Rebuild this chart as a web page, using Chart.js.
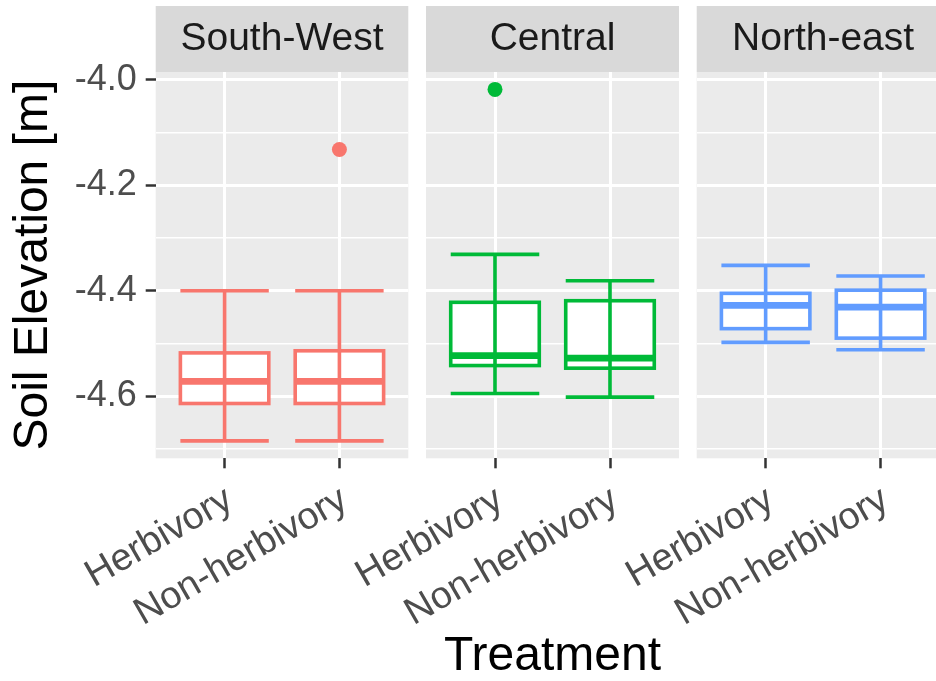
<!DOCTYPE html>
<html lang="en">
<head>
<meta charset="UTF-8">
<title>Soil Elevation by Treatment</title>
<script src="https://cdn.jsdelivr.net/npm/chart.js"></script>
<style>
    body { margin: 0; background: #ffffff; overflow: hidden; }
    #wrap { position: relative; width: 936px; height: 681px; overflow: hidden; }
    #wrap canvas { position: absolute; top: 0; }
</style>
</head>
<body>
<div id="wrap">
    <canvas id="panel0" width="420" height="681" style="left:0px"></canvas>
    <canvas id="panel1" width="400" height="681" style="left:300px"></canvas>
    <canvas id="panel2" width="390" height="681" style="left:570px"></canvas>
</div>
<script>
// facets and categories
const regions = ['South-West', 'Central', 'North-east'];
const treatments = ['Herbivory', 'Non-herbivory'];
const regionColors = ['#F8766D', '#00BA38', '#619CFF'];

// box statistics, one row per region: [Herbivory, Non-herbivory]
const whiskerLow  = [[-4.685, -4.685], [-4.595, -4.602], [-4.498, -4.512]];
const lowerQuart  = [[-4.614, -4.614], [-4.542, -4.547], [-4.472, -4.490]];
const medians     = [[-4.572, -4.572], [-4.523, -4.528], [-4.428, -4.431]];
const upperQuart  = [[-4.518, -4.514], [-4.422, -4.419], [-4.405, -4.399]];
const whiskerHigh = [[-4.400, -4.400], [-4.331, -4.381], [-4.352, -4.372]];
const outliers    = [[null, -4.132], [-4.018, null], [null, null]];

// y axis
const yMajorTicks = [-4.6, -4.4, -4.2, -4.0];
const yMinorTicks = [-4.7, -4.5, -4.3, -4.1];
const yMin = -4.718;
const yMax = -3.985;

Chart.defaults.font.family = "'Liberation Sans', Arial, sans-serif";

// grey panel + strip behind the title
const panelPlugin = {
    id: 'panelPlugin',
    beforeDraw(chart) {
        const ctx = chart.ctx;
        const a = chart.chartArea;
        const t = chart.titleBlock;
        ctx.save();
        ctx.fillStyle = '#EBEBEB';
        ctx.fillRect(a.left, a.top, a.right - a.left, a.bottom - a.top);
        ctx.fillStyle = '#D9D9D9';
        ctx.fillRect(a.left, t.top, a.right - a.left, a.top - t.top);
        ctx.restore();
    }
};

// boxplot: white box, thick median, then errorbar on top
const boxPlugin = {
    id: 'boxPlugin',
    beforeDatasetsDraw(chart, args, opts) {
        const ctx = chart.ctx;
        const x = chart.scales.x, y = chart.scales.y;
        const r = opts.region;
        const halfW = 0.385;
        ctx.save();
        ctx.strokeStyle = regionColors[r];
        treatments.forEach((t, i) => {
            const cx = x.getPixelForValue(i + 1);
            const xl = x.getPixelForValue(i + 1 - halfW);
            const xr = x.getPixelForValue(i + 1 + halfW);
            const top = y.getPixelForValue(upperQuart[r][i]);
            const bot = y.getPixelForValue(lowerQuart[r][i]);
            const med = y.getPixelForValue(medians[r][i]);
            const hi = y.getPixelForValue(whiskerHigh[r][i]);
            const lo = y.getPixelForValue(whiskerLow[r][i]);

            ctx.fillStyle = '#FFFFFF';
            ctx.fillRect(xl, top, xr - xl, bot - top);
            ctx.lineWidth = 3.6;
            ctx.strokeRect(xl, top, xr - xl, bot - top);

            ctx.lineWidth = 6.8;
            ctx.beginPath();
            ctx.moveTo(xl, med);
            ctx.lineTo(xr, med);
            ctx.stroke();

            ctx.lineWidth = 3.6;
            ctx.beginPath();
            ctx.moveTo(cx, hi);
            ctx.lineTo(cx, lo);
            ctx.moveTo(xl, hi);
            ctx.lineTo(xr, hi);
            ctx.moveTo(xl, lo);
            ctx.lineTo(xr, lo);
            ctx.stroke();
        });
        ctx.restore();
    }
};

const pads = [
    { left: 0, right: 11.7 },
    { left: 126, right: 21 },
    { left: 126.7, right: 10.5 }
];

function makePanel(r) {
    const first = r === 0;
    const middle = r === 1;
    const points = [];
    treatments.forEach((t, i) => {
        if (outliers[r][i] !== null) points.push({ x: i + 1, y: outliers[r][i] });
    });

    const yTicks = yMajorTicks.map(v => ({ value: v, isMinor: false }))
        .concat(yMinorTicks.map(v => ({ value: v, isMinor: true })))
        .sort((a, b) => a.value - b.value);

    new Chart(document.getElementById('panel' + r), {
        type: 'scatter',
        data: {
            datasets: [{
                data: points,
                pointRadius: 7.5,
                pointHoverRadius: 7.5,
                backgroundColor: regionColors[r],
                borderWidth: 0
            }]
        },
        options: {
            responsive: false,
            animation: false,
            layout: { padding: { top: 6, bottom: 0, left: pads[r].left, right: pads[r].right } },
            plugins: {
                legend: { display: false },
                tooltip: { enabled: false },
                title: {
                    display: true,
                    text: regions[r],
                    fullSize: false,
                    color: '#1A1A1A',
                    font: { size: 39, weight: 'normal', lineHeight: 1.2 },
                    padding: { top: 9.6, bottom: 9.6 }
                },
                boxPlugin: { region: r }
            },
            scales: {
                x: {
                    type: 'linear',
                    min: 0.4,
                    max: 2.6,
                    afterBuildTicks: s => { s.ticks = treatments.map((t, i) => ({ value: i + 1 })); },
                    afterFit: s => { s.height = 681 - 458.3; s.paddingLeft = 0; s.paddingRight = 0; },
                    ticks: {
                        callback: v => treatments[v - 1],
                        autoSkip: false,
                        minRotation: 30,
                        maxRotation: 30,
                        color: '#4D4D4D',
                        font: { size: 38 },
                        padding: 9,
                        labelOffset: 5
                    },
                    grid: {
                        color: '#FFFFFF',
                        lineWidth: 3,
                        tickColor: '#333333',
                        tickLength: 10,
                        tickWidth: 2.5
                    },
                    border: { display: false },
                    title: {
                        display: middle,
                        text: 'Treatment',
                        color: '#000000',
                        font: { size: 48, lineHeight: 1 },
                        padding: { top: 0, bottom: 0 }
                    }
                },
                y: {
                    type: 'linear',
                    min: yMin,
                    max: yMax,
                    afterBuildTicks: s => { s.ticks = yTicks.map(t => ({ value: t.value, isMinor: t.isMinor })); },
                    afterFit: s => { s.width = first ? 155.7 : 0; s.paddingTop = 0; s.paddingBottom = 0; },
                    ticks: {
                        display: first,
                        autoSkip: false,
                        callback: (v, i, ticks) => ticks[i].isMinor ? '' : v.toFixed(1),
                        color: '#4D4D4D',
                        font: { size: 36 },
                        padding: 9
                    },
                    grid: {
                        color: '#FFFFFF',
                        lineWidth: c => (c.tick && c.tick.isMinor) ? 1.5 : 3,
                        drawTicks: first,
                        tickColor: c => (c.tick && c.tick.isMinor) ? 'rgba(0,0,0,0)' : '#333333',
                        tickLength: 10,
                        tickWidth: 2.5
                    },
                    border: { display: false },
                    title: {
                        display: first,
                        text: 'Soil Elevation [m]',
                        color: '#000000',
                        font: { size: 48, lineHeight: 1 },
                        padding: { top: 9.5, bottom: 0 }
                    }
                }
            }
        },
        plugins: [panelPlugin, boxPlugin]
    });
}

window.onload = function() {
    regions.forEach((name, r) => makePanel(r));
};
</script>
</body>
</html>
